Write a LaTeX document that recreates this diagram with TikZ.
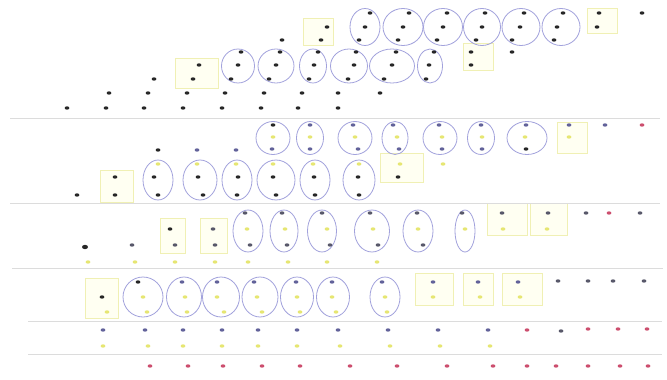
\documentclass[tikz,border=0pt]{standalone}
\usetikzlibrary{shapes.geometric}
\definecolor{dk}{HTML}{262626}
\definecolor{db}{HTML}{62629A}
\definecolor{dy}{HTML}{E6E672}
\definecolor{dr}{HTML}{CC4E6E}
\definecolor{dg}{HTML}{58586A}
\definecolor{ellc}{HTML}{A2A2DC}
\definecolor{boxc}{HTML}{F0F0B4}
\definecolor{boxf}{HTML}{FFFFF2}
\definecolor{linec}{HTML}{DCDCDC}
\tikzset{
  pt/.style={ellipse,inner sep=0pt,minimum width=4.8pt,minimum height=3.3pt,fill=#1},
  dotk/.style={pt=dk},
  dotb/.style={pt=db},
  doty/.style={pt=dy},
  dotr/.style={pt=dr},
  dotg/.style={pt=dg},
  ring/.style={ellipse,draw=ellc,line width=0.8pt,inner sep=0pt},
  ybox/.style={draw=boxc,fill=boxf,line width=0.6pt},
  sep/.style={draw=linec,line width=0.9pt}
}
\begin{document}
\begin{tikzpicture}[x=1pt,y=-1pt]
\fill[white] (0,0) rectangle (667,380);
\useasboundingbox (0,0) rectangle (667,380);
% yellow boxes
\foreach \a/\b/\c/\d [count=\i] in {175/58/218/88,303/18/333/45,463/43/493/70,587/8/617/33,
  557/122/587/153,100/170/133/202,380/153/423/182,
  160/218/185/253,200/218/227/253,487/203/527/235,530/203/567/235,
  85/278/118/318,415/273/453/305,463/273/493/305,502/273/542/305}
  \draw[ybox] (\a,\b) rectangle (\c,\d);
% separator lines
\coordinate (l1a) at (10,118); \coordinate (l1b) at (660,118);
\coordinate (l2a) at (10,203); \coordinate (l2b) at (660,203);
\coordinate (l3a) at (12,268); \coordinate (l3b) at (663,268);
\coordinate (l4a) at (28,321); \coordinate (l4b) at (662,321);
\coordinate (l5a) at (28,354); \coordinate (l5b) at (662,354);
\foreach \k in {1,...,5} \draw[sep] (l\k a) -- (l\k b);
% ellipses
\foreach \x/\w [count=\i] in {365/30,403/40,443/39,482/37,521/38,561/38}
  \node[ring,minimum width=\w pt,minimum height=37pt] (ta\i) at (\x,27) {};
\foreach \x/\w [count=\i] in {238/33,276/36,313/27,349/37,392/45,430/25}
  \node[ring,minimum width=\w pt,minimum height=34pt] (tb\i) at (\x,66) {};
\foreach \x/\w [count=\i] in {273/34,310/27,355/34,395/26,440/34,481/27,527/40}
  \node[ring,minimum width=\w pt,minimum height=33pt] (ua\i) at (\x,138) {};
\foreach \x/\w [count=\i] in {158/30,200/34,237/30,276/38,315/30,359/32}
  \node[ring,minimum width=\w pt,minimum height=40pt] (ub\i) at (\x,180) {};
\foreach \x/\w [count=\i] in {248/30,284/28,322/29,372/35,418/30,465/20}
  \node[ring,minimum width=\w pt,minimum height=42pt] (ma\i) at (\x,231) {};
\foreach \x/\w [count=\i] in {143/40,184/35,221/37,260/36,297/33,333/33,385/30}
  \node[ring,minimum width=\w pt,minimum height=40pt] (na\i) at (\x,297) {};
% top section: skewed grid of black dots
\foreach \x [count=\i] in {370,409,447,485,524,563,599,642} \node[dotk] (g1\i) at (\x,13) {};
\foreach \x [count=\i] in {327,365,403,443,482,520,557,597} \node[dotk] (g2\i) at (\x,27) {};
\foreach \x [count=\i] in {282,321,359,398,437,476,512,554} \node[dotk] (g3\i) at (\x,40) {};
\foreach \x [count=\i] in {241,280,318,356,396,434,471,512} \node[dotk] (g4\i) at (\x,52) {};
\foreach \x [count=\i] in {199,238,276,314,354,392,429,471} \node[dotk] (g5\i) at (\x,65) {};
\foreach \x [count=\i] in {154,193,231,269,309,348,384,426} \node[dotk] (g6\i) at (\x,79) {};
\foreach \x [count=\i] in {109,148,187,225,264,302,338,380} \node[dotk] (g7\i) at (\x,93) {};
\foreach \x [count=\i] in {67,106,144,183,222,261,298,338} \node[dotk] (g8\i) at (\x,108) {};
% section 2 upper
\node[dotk] (s2t1) at (273,125) {};
\foreach \x [count=\i] in {310,353,393,439,481,526,569,605} \node[dotb] (s2t\i x) at (\x,125) {};
\node[dotr] (s2r) at (642,125) {};
\foreach \x [count=\i] in {273,310,355,397,442,482,525,569} \node[doty] (s2m\i) at (\x,137) {};
\foreach \x [count=\i] in {272,310,358,399,442,482} \node[dotb] (s2b\i) at (\x,149) {};
\node[dotk] (s2b7) at (526,149) {};
\node[dotk] (s2c1) at (158,150) {};
\node[dotb] (s2c2) at (197,150) {};
\node[dotb] (s2c3) at (236,150) {};
% section 2 lower
\foreach \x [count=\i] in {158,197,236,273,313,359,400,443} \node[doty] (s3y\i) at (\x,164) {};
\foreach \x [count=\i] in {115,154,198,238,273,314,358,398} \node[dotk] (s3m\i) at (\x,177) {};
\foreach \x [count=\i] in {77,115,158,203,237,276,315,359} \node[dotk] (s3b\i) at (\x,195) {};
% section 3
\foreach \x [count=\i] in {245,282,322,370,417,462,502,548,586,640} \node[dotg] (s4t\i) at (\x,213) {};
\node[dotr] (s4r) at (609,213) {};
\node[dotk] (s4a) at (170,229) {};
\node[dotg] (s4b) at (213,229) {};
\foreach \x [count=\i] in {247,285,327,373,418,465,503,547} \node[doty] (s4m\i) at (\x,229) {};
\node[dotk,minimum width=6pt,minimum height=4.4pt] (s4c) at (85,247) {};
\foreach \x [count=\i] in {132,175,215,250,287,330,378,423} \node[dotg] (s4l\i) at (\x,245) {};
\foreach \x [count=\i] in {88,135,175,215,248,288,327,377} \node[doty] (s4y\i) at (\x,262) {};
% section 4
\node[dotk] (s5k) at (138,282) {};
\foreach \x [count=\i] in {182,217,254,296,332,382,433,478,518} \node[dotb] (s5t\i) at (\x,282) {};
\foreach \x [count=\i] in {558,588,613,644} \node[dotg] (s5g\i) at (\x,281) {};
\node[dotk] (s5a) at (102,297) {};
\foreach \x [count=\i] in {143,185,217,257,297,332,385,433,480,520} \node[doty] (s5m\i) at (\x,297) {};
\foreach \x [count=\i] in {107,147,187,224,262,300,336,387} \node[doty] (s5b\i) at (\x,312) {};
% section 5
\foreach \x [count=\i] in {103,145,183,222,258,297,338,388,438,488} \node[dotb] (s6b\i) at (\x,330) {};
\node[dotr] (s6r1) at (527,330) {};
\node[dotg] (s6g) at (561,331) {};
\foreach \x [count=\i] in {588,618,647} \node[dotr] (s6r\i x) at (\x,329) {};
\foreach \x [count=\i] in {103,148,183,222,258,297,340,390,440,490} \node[doty] (s6y\i) at (\x,346) {};
% section 6
\foreach \x [count=\i] in {150,188,223,262,300,350,397,447,493,527,556,588,620,648} \node[dotr] (s7r\i) at (\x,366) {};
\end{tikzpicture}
\end{document}
